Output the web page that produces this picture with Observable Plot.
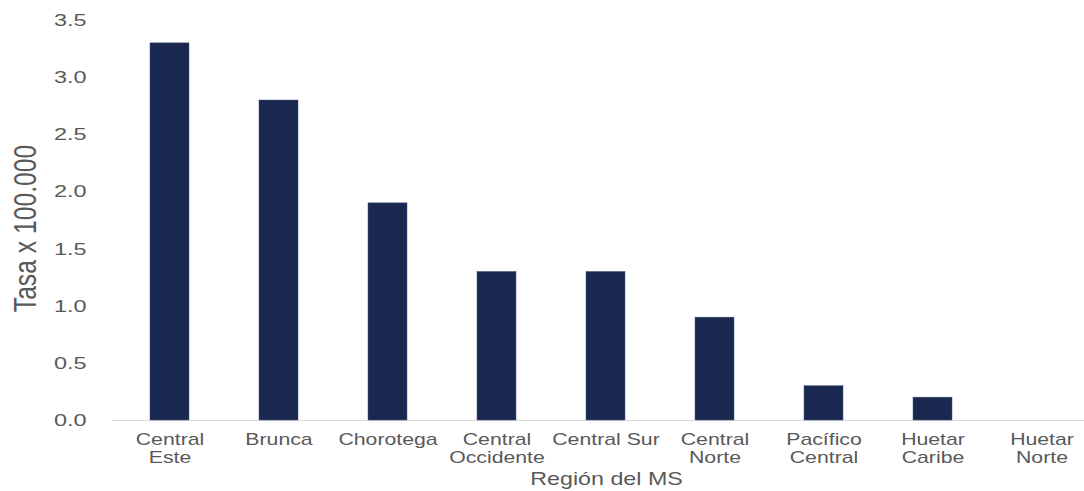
<!DOCTYPE html>
<html>
<head>
<meta charset="utf-8">
<script src="https://cdn.jsdelivr.net/npm/d3@7"></script>
<script src="https://cdn.jsdelivr.net/npm/@observablehq/plot@0.6"></script>
<style>
  html, body { margin: 0; padding: 0; background: #ffffff; }
  #chart svg { display: block; }
</style>
</head>
<body>
<div id="chart"></div>
<script>
// Tasa por 100.000 habitantes según región del Ministerio de Salud
const regions = ["Central Este", "Brunca", "Chorotega", "Central Occidente", "Central Sur",
                 "Central Norte", "Pacífico Central", "Huetar Caribe", "Huetar Norte"];
const regionLabels = ["Central\nEste", "Brunca", "Chorotega", "Central\nOccidente", "Central Sur",
                      "Central\nNorte", "Pacífico\nCentral", "Huetar\nCaribe", "Huetar\nNorte"];
const rates = [3.3, 2.8, 1.9, 1.3, 1.3, 0.9, 0.3, 0.2, 0];
const yTicks = [0, 0.5, 1, 1.5, 2, 2.5, 3, 3.5];
const yTitle = "Tasa x 100.000";
const xTitle = "Región del MS";

const data = regions.map((region, i) => ({region, rate: rates[i]}));
const labelOf = new Map(regions.map((r, i) => [r, regionLabels[i]]));

const textColor = "#595959";
const barColor = "#1a2850";

const chart = Plot.plot({
  width: 1084,
  height: 491,
  marginLeft: 112,
  marginRight: 0,
  marginTop: 20,
  marginBottom: 71,
  style: {fontFamily: "'Liberation Sans', Arial, sans-serif", fontSize: "17px", color: textColor, background: "#ffffff"},
  x: {type: "band", domain: regions, range: [111.7, 1098.9], paddingInner: 0.645, paddingOuter: 0.3225, align: 0.5},
  y: {domain: [0, 3.5]},
  marks: [
    Plot.ruleY([0], {stroke: "#d9d9d9", strokeWidth: 1.2}),
    Plot.barY(data, {x: "region", y: "rate", fill: barColor, stroke: "#4a5a80", strokeWidth: 0.5}),
    Plot.axisY({ticks: yTicks, tickFormat: d3.format(".1f"), tickSize: 0, tickPadding: 26, label: null, fontSize: 17}),
    Plot.axisX({tickSize: 0, tickPadding: 12, tickFormat: d => labelOf.get(d), lineHeight: 1.06, label: null, fontSize: 17}),
    Plot.text([xTitle], {text: d => d, frameAnchor: "bottom", lineAnchor: "middle", textAnchor: "middle", dx: 8, dy: 59, fontSize: 17.5, fill: textColor}),
    Plot.text([yTitle], {text: d => d, frameAnchor: "left", rotate: -90, lineAnchor: "middle", textAnchor: "middle", dx: -86.5, dy: 8, fontSize: 24.7, fill: textColor})
  ]
});

document.getElementById("chart").append(chart);

// Widen the lettering horizontally, keeping each label on its anchor point
const widen = (sel, k) => chart.querySelectorAll(sel).forEach(t => {
  const tr = t.getAttribute("transform") || "";
  t.setAttribute("transform", tr + ` scale(${k},1)`);
});
widen('[aria-label="y-axis tick label"] text', 1.38);
widen('[aria-label="x-axis tick label"] text', 1.25);
chart.querySelectorAll("text").forEach(t => {
  const tr = t.getAttribute("transform") || "";
  if (t.textContent === xTitle) t.setAttribute("transform", tr + " scale(1.33,1)");
  if (t.textContent === yTitle) t.setAttribute("transform", tr.replace("rotate(-90)", "scale(1.3,1) rotate(-90)"));
});
</script>
</body>
</html>
